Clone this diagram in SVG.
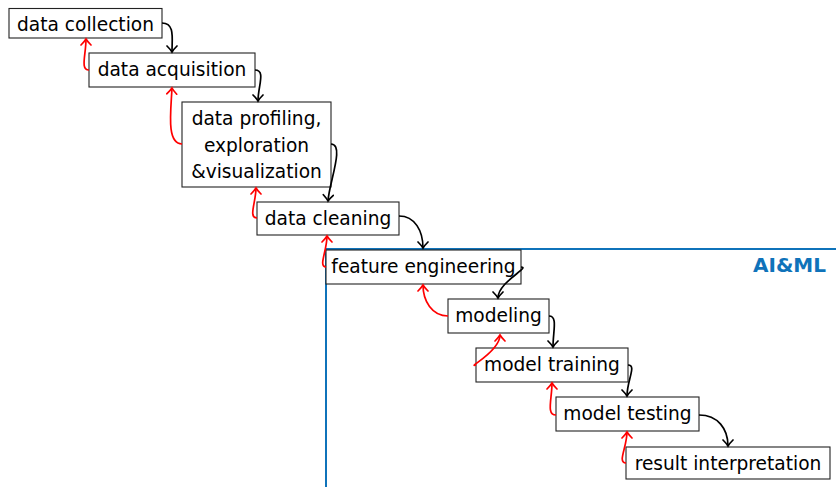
<svg xmlns="http://www.w3.org/2000/svg" width="836" height="487" viewBox="0 0 836 487">
<defs>
<style>
.box rect{fill:#fff;stroke:#222;stroke-width:1.1}
.box text{font-family:"DejaVu Sans",sans-serif;font-size:18.6px;fill:#000;text-anchor:middle}
.fw{fill:none;stroke:#000;stroke-width:1.7}
.bk{fill:none;stroke:#f00;stroke-width:1.7}
</style>
<marker id="ab" markerWidth="10" markerHeight="12" viewBox="-8 -6 10 12" refX="0" refY="0" orient="auto" markerUnits="userSpaceOnUse">
<path d="M-6,-5 Q-2.2,-1.2 0,0 Q-2.2,1.2 -6,5" fill="none" stroke="#000" stroke-width="1.7" stroke-linecap="round"/>
</marker>
<marker id="ar" markerWidth="10" markerHeight="12" viewBox="-8 -6 10 12" refX="0" refY="0" orient="auto" markerUnits="userSpaceOnUse">
<path d="M-6,-5 Q-2.2,-1.2 0,0 Q-2.2,1.2 -6,5" fill="none" stroke="#f00" stroke-width="1.7" stroke-linecap="round"/>
</marker>
</defs>
<g id="aiml">
<path d="M326,487 L326,249 L836,249" fill="none" stroke="#0f73ba" stroke-width="2"/>
<text x="826" y="272" font-family="DejaVu Sans,sans-serif" font-weight="bold" font-size="20" fill="#0f73ba" text-anchor="end">AI&amp;ML</text>
</g>
<g id="n1" class="box"><rect x="9" y="8.5" width="153" height="29.5"/><text x="85.5" y="31">data collection</text></g>
<g id="n2" class="box"><rect x="89" y="53" width="166" height="34"/><text x="172" y="76">data acquisition</text></g>
<g id="n3" class="box"><rect x="182" y="102" width="149" height="85"/><text x="256.5" y="124.5">data profiling,</text><text x="256.5" y="151.5">exploration</text><text x="256.5" y="178">&amp;visualization</text></g>
<g id="n4" class="box"><rect x="257" y="202" width="142" height="33"/><text x="328" y="224.5">data cleaning</text></g>
<g id="n5" class="box"><rect x="326" y="250" width="195" height="34"/><text x="423.5" y="273">feature engineering</text></g>
<g id="n6" class="box"><rect x="448" y="299" width="101" height="34"/><text x="498.5" y="322">modeling</text></g>
<g id="n7" class="box"><rect x="476" y="348" width="152" height="34"/><text x="552" y="371">model training</text></g>
<g id="n8" class="box"><rect x="556" y="397" width="143" height="34"/><text x="627.5" y="420">model testing</text></g>
<g id="n9" class="box"><rect x="626" y="447" width="204" height="32"/><text x="728" y="470">result interpretation</text></g>
<g id="connectors">
<path class="fw" marker-end="url(#ab)" d="M162,23 C175,23 172,38 172,52"/>
<path class="fw" marker-end="url(#ab)" d="M255,70 C266,70 258,86 258,101"/>
<path class="fw" marker-end="url(#ab)" d="M331,144 C345,144 329,183 328,201"/>
<path class="fw" marker-end="url(#ab)" d="M399,216 C415,216 423,231 423,248"/>
<path class="fw" marker-end="url(#ab)" d="M521,267 C531,267 498,282 498,298"/>
<path class="fw" marker-end="url(#ab)" d="M549,316 C558,316 553,331 553,347"/>
<path class="fw" marker-end="url(#ab)" d="M628,365 C637,365 627,380 627,396"/>
<path class="fw" marker-end="url(#ab)" d="M699,415 C718,415 728,429 728,446"/>
<path class="bk" marker-end="url(#ar)" d="M89,70 C80,70 86,55 86,39"/>
<path class="bk" marker-end="url(#ar)" d="M182,144 C166,144 171,110 172,88"/>
<path class="bk" marker-end="url(#ar)" d="M257,218 C248,218 256,202 256,188"/>
<path class="bk" marker-end="url(#ar)" d="M326,267 C318,267 327,251 327,236"/>
<path class="bk" marker-end="url(#ar)" d="M448,316 C432,316 423,301 423,285"/>
<path class="bk" marker-end="url(#ar)" d="M476,365 C466,368 500,352 500,335"/>
<path class="bk" marker-end="url(#ar)" d="M556,415 C546,415 552,399 552,383"/>
<path class="bk" marker-end="url(#ar)" d="M626,463 C617,463 627,447 627,432"/>
</g>
</svg>
